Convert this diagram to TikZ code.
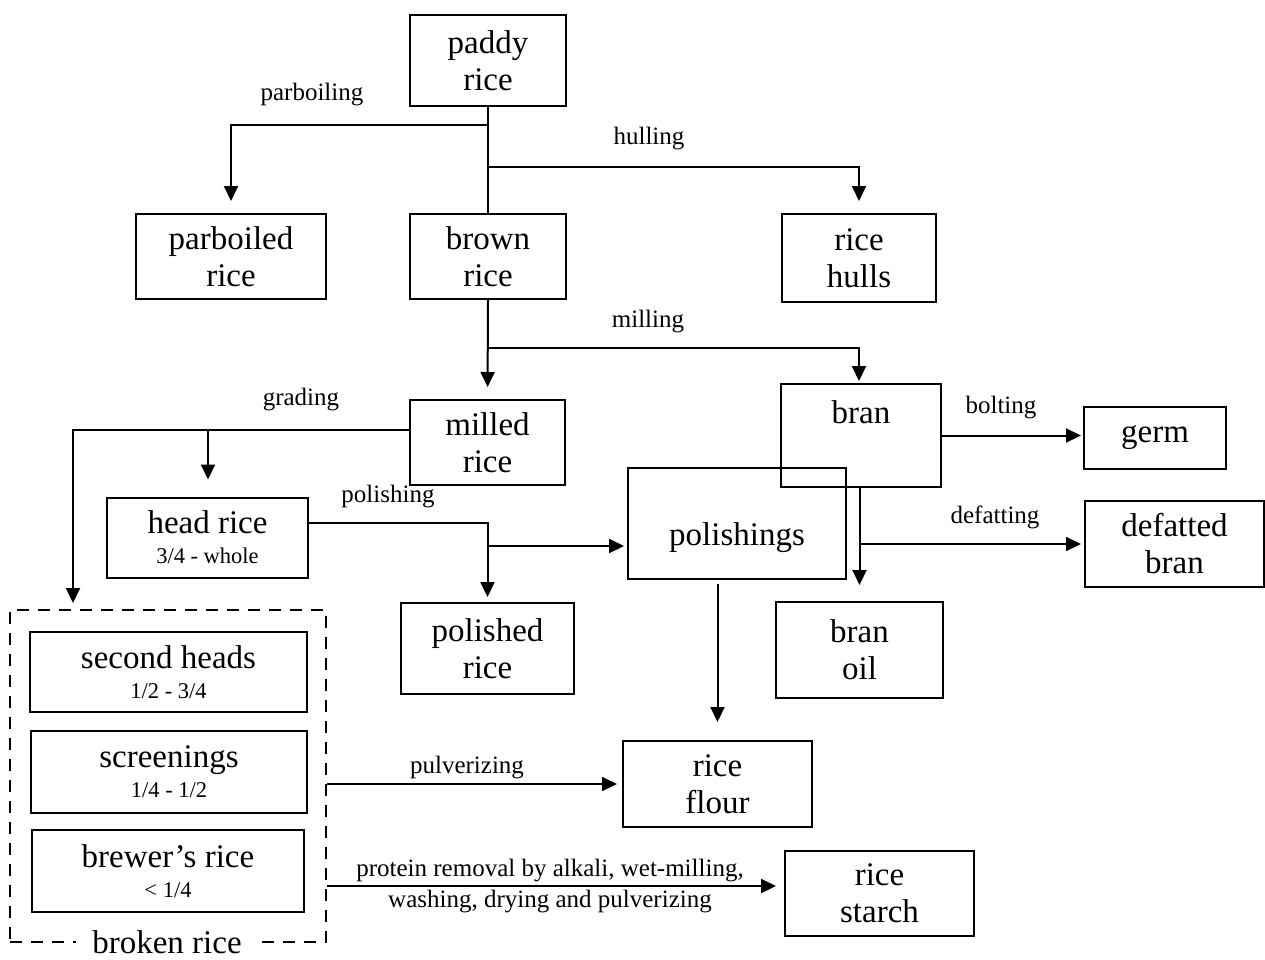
\documentclass[tikz,border=0pt]{standalone}
\usepackage{fontspec}
\setmainfont{Liberation Serif}
\usetikzlibrary{arrows.meta}
\newcommand\mytxt{\fontsize{33}{37}\selectfont}
\newcommand\mylbl{\fontsize{25}{29}\selectfont}
\newcommand\mysub{\fontsize{22.5}{26}\selectfont}
\begin{document}
\begin{tikzpicture}[x=1pt,y=-1pt,
  box/.style={draw, line width=2pt, inner sep=0pt, align=center, font=\mytxt},
  dbox/.style={draw, line width=2pt, dash pattern=on 12pt off 9pt, inner sep=0pt},
  conn/.style={line width=2pt},
  arr/.style={line width=2pt, -{Triangle[length=15pt,width=14pt]}},
  lbl/.style={font=\mylbl, anchor=base, inner sep=0pt}]
\useasboundingbox (0,0) rectangle (1265,959);
% boxes
\node[box, minimum width=156pt, minimum height=91pt] (paddy) at (488,60.5) {paddy\\rice};
\node[box, minimum width=190pt, minimum height=85pt] (parboiled) at (231,256.5) {parboiled\\rice};
\node[box, minimum width=156pt, minimum height=85pt] (brown) at (488,256.5) {brown\\rice};
\node[box, minimum width=154pt, minimum height=88pt] (hulls) at (859,258) {rice\\hulls};
\node[box, minimum width=155pt, minimum height=85pt] (milled) at (487.5,442.5) {milled\\rice};
\node[box, minimum width=160pt, minimum height=103pt, text height=23pt, text depth=48pt] (bran) at (861,435.5) {bran};
\node[box, minimum width=142pt, minimum height=62pt] (germ) at (1155,438) {germ};
\node[box, minimum width=218pt, minimum height=111pt, text height=50pt, text depth=7pt] (polishings) at (737,523.5) {polishings};
\node[box, minimum width=179pt, minimum height=86pt] (defatted) at (1174.5,544) {defatted\\bran};
\node[box, minimum width=201pt, minimum height=80pt] (head) at (207.5,537.5) {head rice\\[-7pt]{\mysub 3/4 - whole}};
\node[box, minimum width=173pt, minimum height=91pt] (polished) at (487.5,648.5) {polished\\rice};
\node[box, minimum width=167pt, minimum height=96pt] (oil) at (859.5,650) {bran\\oil};
\node[dbox, minimum width=316pt, minimum height=332pt] (broken) at (168,776) {};
\node[box, minimum width=277pt, minimum height=80pt] (second) at (168.5,672) {second heads\\[-7pt]{\mysub 1/2 - 3/4}};
\node[box, minimum width=276pt, minimum height=82pt] (screen) at (169,772) {screenings\\[-7pt]{\mysub 1/4 - 1/2}};
\node[box, minimum width=272pt, minimum height=82pt] (brewer) at (168,871) {brewer’s rice\\[-7pt]{\mysub < 1/4}};
\node[font=\mytxt, fill=white, inner sep=0pt, inner xsep=16pt, anchor=base] (brokenlbl) at (167,953) {broken rice};
\node[box, minimum width=189pt, minimum height=86pt] (flour) at (717.5,784) {rice\\flour};
\node[box, minimum width=189pt, minimum height=85pt] (starch) at (879.5,893.5) {rice\\starch};
% branch points
\coordinate (pb) at (488,125);
\coordinate (hl) at (488,167);
\coordinate (ml) at (488,348);
\coordinate (df) at (859,544);
\coordinate (gL) at (73,610);
\coordinate (gM) at (208,430);
\coordinate (pM) at (487.5,546);
\coordinate (ps) at ([yshift=7.5pt]starch.west);
% connectors
\draw[conn] (paddy.south) -- (brown.north);
\draw[arr, shorten >=12pt] (pb) -| (parboiled.north);
\draw[arr, shorten >=12pt] (hl) -| (hulls.north);
\draw[arr, shorten >=12pt] (brown.south) -- (milled.north);
\draw[arr, shorten >=2pt] (ml) -| ([xshift=-2pt]bran.north);
\draw[arr, shorten >=2pt] (bran.east) -- (bran.east -| germ.west);
\draw[arr, shorten >=16pt] (oil.north |- bran.south) -- (oil.north);
\draw[arr, shorten >=3pt] (df) -- (df -| defatted.west);
\draw[arr, shorten >=7pt] ([yshift=12.5pt]milled.west) -| (gL);
\draw[arr, shorten >=17pt] (gM) -- (gM |- head.north);
\draw[arr, shorten >=5pt] ([yshift=14.5pt]head.east) -| (polished.north);
\draw[arr, shorten >=3pt] (pM) -- (pM -| polishings.west);
\draw[arr, shorten <=4pt, shorten >=18pt] (flour.north |- polishings.south) -- (flour.north);
\draw[arr, shorten >=5pt] (broken.east |- flour.west) -- (flour.west);
\draw[arr, shorten >=8pt] (broken.east |- ps) -- (ps);
% labels
\node[lbl] (lparb) at (312,100) {parboiling};
\node[lbl] (lhull) at (649,144) {hulling};
\node[lbl] (lmill) at (648,327) {milling};
\node[lbl] (lgrad) at (301,405) {grading};
\node[lbl] (lpol) at (388,502) {polishing};
\node[lbl] (lbolt) at (1001,413) {bolting};
\node[lbl] (ldef) at (995,523) {defatting};
\node[lbl] (lpulv) at (467,773) {pulverizing};
\node[lbl] (lprot1) at (550,876) {protein removal by alkali, wet-milling,};
\node[lbl] (lprot2) at (550,907) {washing, drying and pulverizing};
\end{tikzpicture}
\end{document}
